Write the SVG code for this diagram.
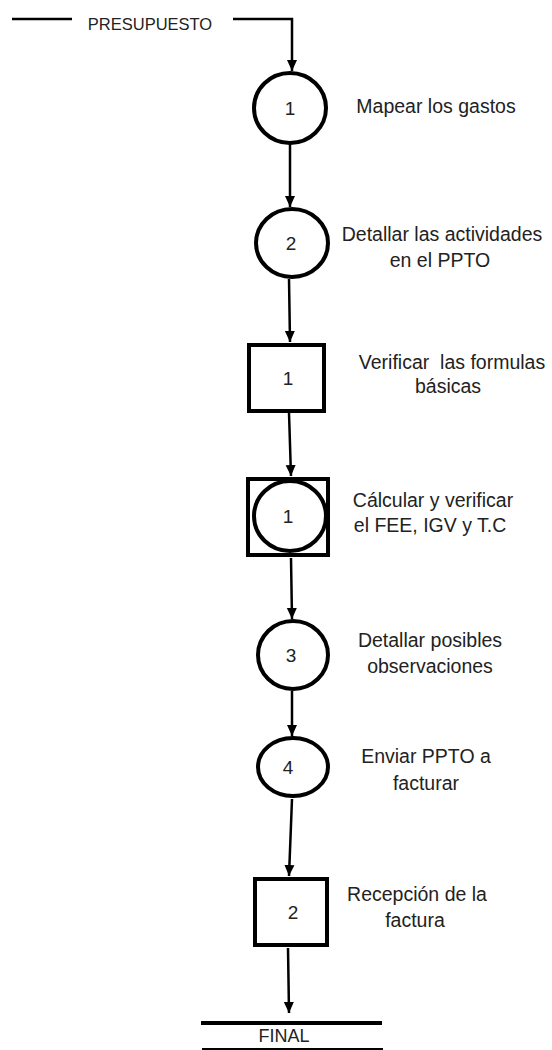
<svg xmlns="http://www.w3.org/2000/svg" width="552" height="1050" viewBox="0 0 552 1050">
  <style>
    .lbl { font-family: "Liberation Sans", Arial, sans-serif; font-size: 19.5px; fill: #222; text-anchor: middle; }
    .hdr { font-family: "Liberation Sans", Arial, sans-serif; font-size: 16.5px; fill: #222; text-anchor: middle; }
    .num { font-family: "Liberation Sans", Arial, sans-serif; font-size: 19px; fill: #222; text-anchor: middle; }
    .op { fill: #fff; stroke: #000; stroke-width: 4; }
    .flow { fill: none; stroke: #000; stroke-width: 2.5; marker-end: url(#arrow); }
  </style>
  <defs>
    <marker id="arrow" markerUnits="userSpaceOnUse" markerWidth="12" markerHeight="12" viewBox="0 0 12 12" refX="11" refY="6" orient="auto">
      <path d="M0,1 L11,6 L0,11 Z" fill="#000"/>
    </marker>
  </defs>

  <rect width="552" height="1050" fill="#fff"/>

  <!-- connectors -->
  <g id="connectors">
    <line x1="12" y1="19" x2="72" y2="19" stroke="#000" stroke-width="2.5"/>
    <path class="flow" d="M233 19 H292 V71"/>
    <path class="flow" d="M290 144 L290 207"/>
    <path class="flow" d="M289 279 L290 342"/>
    <path class="flow" d="M289 413 L291 476"/>
    <path class="flow" d="M291 558 L292 619"/>
    <path class="flow" d="M292 691 L292 736"/>
    <path class="flow" d="M292 799 L289 876"/>
    <path class="flow" d="M288 948 L289 1013"/>
  </g>

  <g id="start">
    <text class="hdr" x="150" y="30">PRESUPUESTO</text>
  </g>

  <g id="op1">
    <ellipse class="op" cx="290" cy="108" rx="36" ry="35"/>
    <text class="num" x="290" y="115">1</text>
    <text class="lbl" x="436" y="113">Mapear los gastos</text>
  </g>

  <g id="op2">
    <ellipse class="op" cx="292" cy="243" rx="36" ry="34"/>
    <text class="num" x="291" y="250">2</text>
    <text class="lbl" x="442" y="241">Detallar las actividades</text>
    <text class="lbl" x="440" y="267">en el PPTO</text>
  </g>

  <g id="insp1">
    <rect class="op" x="249" y="345" width="75" height="66"/>
    <text class="num" x="288" y="385">1</text>
    <text class="lbl" x="452" y="369" xml:space="preserve">Verificar  las formulas</text>
    <text class="lbl" x="448" y="393">básicas</text>
  </g>

  <g id="combined1">
    <rect class="op" x="248" y="479" width="80" height="76"/>
    <ellipse class="op" cx="290" cy="516" rx="36" ry="35"/>
    <text class="num" x="288" y="523">1</text>
    <text class="lbl" x="433" y="507">Cálcular y verificar</text>
    <text class="lbl" x="430" y="532">el FEE, IGV y T.C</text>
  </g>

  <g id="op3">
    <ellipse class="op" cx="293" cy="655" rx="35" ry="34"/>
    <text class="num" x="291" y="662">3</text>
    <text class="lbl" x="430" y="647">Detallar posibles</text>
    <text class="lbl" x="430" y="673">observaciones</text>
  </g>

  <g id="op4">
    <ellipse class="op" cx="293" cy="767" rx="35" ry="29"/>
    <text class="num" x="288" y="774">4</text>
    <text class="lbl" x="426" y="763">Enviar PPTO a</text>
    <text class="lbl" x="426" y="790">facturar</text>
  </g>

  <g id="insp2">
    <rect class="op" x="255" y="879" width="72" height="66"/>
    <text class="num" x="293" y="919">2</text>
    <text class="lbl" x="417" y="901">Recepción de la</text>
    <text class="lbl" x="415" y="927">factura</text>
  </g>

  <g id="end">
    <line x1="201" y1="1023" x2="382" y2="1023" stroke="#000" stroke-width="4"/>
    <text class="hdr" x="284" y="1042" style="font-size:18px">FINAL</text>
    <line x1="202" y1="1049" x2="383" y2="1049" stroke="#000" stroke-width="2"/>
  </g>
</svg>
